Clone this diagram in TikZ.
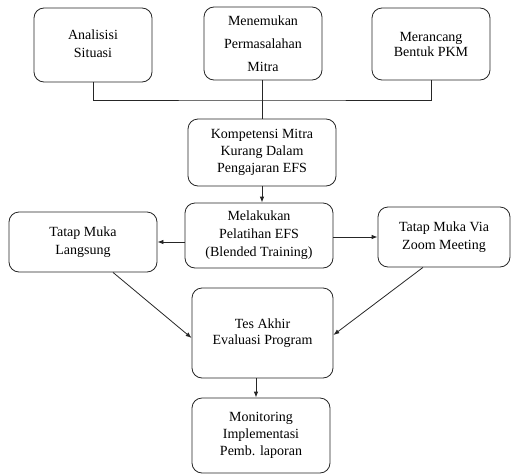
\documentclass[tikz,border=0pt]{standalone}
\usepackage{fontspec}
\setmainfont{Liberation Serif}
\usetikzlibrary{arrows.meta,calc}
\begin{document}
\begin{tikzpicture}[x=1pt,y=-1pt,
  box/.style={draw=black!85,line width=0.8pt,rounded corners=10pt,align=center,
    font=\fontsize{14}{18}\selectfont,inner sep=2pt},
  conn/.style={line width=0.8pt,draw=black!85},
  arr/.style={conn,-{Latex[length=6pt,width=4.5pt]}}]
\useasboundingbox (0,0) rectangle (511,474);
\node[box,minimum width=118pt,minimum height=74pt] (b1) at (93,45) {\raisebox{4pt}{\begin{tabular}{@{}c@{}}Analisisi\\Situasi\end{tabular}}};
\node[box,minimum width=118pt,minimum height=73pt,font=\fontsize{14}{23}\selectfont] (b2) at (263,43.5) {\raisebox{-4pt}{\begin{tabular}{@{}c@{}}Menemukan\\Permasalahan\\Mitra\end{tabular}}};
\node[box,minimum width=118pt,minimum height=72pt,font=\fontsize{14}{15}\selectfont] (b3) at (431,44) {Merancang\\Bentuk PKM};
\node[box,minimum width=148pt,minimum height=67pt,font=\fontsize{14}{17}\selectfont] (komp) at (262,152.5) {Kompetensi Mitra\\Kurang Dalam\\Pengajaran EFS};
\node[box,minimum width=148pt,minimum height=65pt] (mel) at (259,235.5) {Melakukan\\Pelatihan EFS\\(Blended Training)};
\node[box,minimum width=148pt,minimum height=60pt] (tl) at (83,242) {Tatap Muka\\Langsung};
\node[box,minimum width=132pt,minimum height=60pt] (zm) at (444,237) {Tatap Muka Via\\Zoom Meeting};
\node[box,minimum width=141pt,minimum height=90pt,font=\fontsize{14}{16}\selectfont] (tes) at (262.5,333) {Tes Akhir\\Evaluasi Program};
\node[box,minimum width=138pt,minimum height=75pt,font=\fontsize{14}{17}\selectfont] (mon) at (261,435.5) {Monitoring\\Implementasi\\Pemb. laporan};
\coordinate (j) at (262,100);
\draw[conn] (b1.south) |- (j) -| (b3.south);
\draw[conn] (b2.south -| j) -- (komp.north -| j);
\draw[arr] (komp.south) -- (komp.south |- mel.north);
\draw[arr] (mel.west |- 0,242) -- (tl.east |- 0,242);
\draw[arr] (mel.east |- 0,237) -- (zm.west);
\draw[arr] ($(tl.south)+(30,0)$) -- (tes.west |- 0,338);
\draw[arr] ($(zm.south)+(-21,0)$) -- (tes.east |- 0,335);
\draw[arr] (tes.south -| 256,0) -- (mon.north -| 256,0);
\end{tikzpicture}
\end{document}
